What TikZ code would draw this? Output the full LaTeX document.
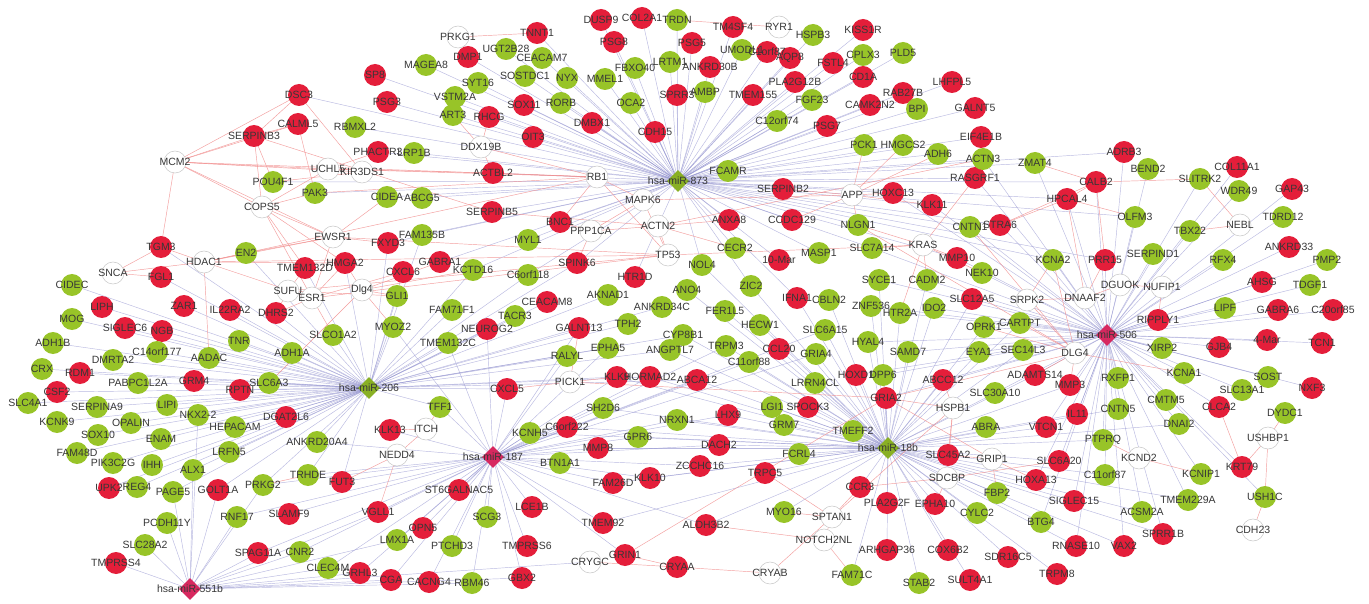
\documentclass[tikz,border=0pt]{standalone}
\usepackage{fontspec}
\setmainfont{Liberation Sans}
\usetikzlibrary{shapes.geometric}
\pgfdeclarelayer{bg}
\pgfsetlayers{bg,main}
\definecolor{nred}{RGB}{228,30,58}
\definecolor{ngreen}{RGB}{152,196,40}
\definecolor{hred}{RGB}{215,40,95}
\definecolor{eblue}{RGB}{140,140,205}
\definecolor{ered}{RGB}{242,140,140}
\definecolor{txt}{RGB}{55,55,55}
\tikzset{
 gene/.style={circle, minimum size=22pt, inner sep=0pt},
 r/.style={gene, fill=nred},
 g/.style={gene, fill=ngreen},
 w/.style={gene, fill=white, draw=black!22, line width=0.5pt},
 hr/.style={diamond, fill=hred, minimum size=22pt, inner sep=0pt},
 hg/.style={diamond, fill=ngreen!90!black, minimum size=22pt, inner sep=0pt},
 lbl/.style={text=txt, font=\fontsize{10.5}{12}\selectfont, inner sep=0pt},
 be/.style={draw=eblue, line width=0.45pt, opacity=0.6},
 re/.style={draw=ered, line width=0.45pt, opacity=0.85},
}
\def\nodelist{hg/m873/678/181/hsa-miR-873,hg/m206/369/388/hsa-miR-206,hr/m187/493/457/hsa-miR-187,hg/m18b/888/448/hsa-miR-18b,hr/m506/1107/335/hsa-miR-506,hr/m551b/190/589/hsa-miR-551b,
r/DSC3/299/95/DSC3,r/CALML5/298/124/CALML5,r/SERPINB3/254/136/SERPINB3,r/TNNT1/537/33/TNNT1,r/DUSP9/601/20/DUSP9,r/COL2A1/642/18/COL2A1,r/PSG8/614/42/PSG8,r/DMP1/468/57/DMP1,r/SP8/375/75/SP8,r/PSG3/387/102/PSG3,r/SOX11/524/105/SOX11,r/SPRR3/677/95/SPRR3,r/RHCG/489/117/RHCG,r/DMBX1/592/123/DMBX1,r/CDH15/655/132/CDH15,r/OIT3/533/137/OIT3,r/PHACTR3/378/152/PHACTR3,r/ACTBL2/493/173/ACTBL2,r/TM4SF4/733/27/TM4SF4,r/KISS1R/863/30/KISS1R,r/PSG5/692/43/PSG5,r/C1orf87/767/52/C1orf87,r/AQP8/790/58/AQP8,r/FSTL4/833/63/FSTL4,r/ANKRD30B/710/67/ANKRD30B,r/PLA2G12B/795/82/PLA2G12B,r/CD1A/863/77/CD1A,r/LHFPL5/952/82/LHFPL5,r/TMEM155/753/95/TMEM155,r/RAB27B/903/93/RAB27B,r/CAMK2N2/870/105/CAMK2N2,r/GALNT5/975/108/GALNT5,r/PSG7/827/126/PSG7,r/EIF4E1B/981/137/EIF4E1B,r/RASGRF1/975/178/RASGRF1,r/SERPINB2/783/189/SERPINB2,r/HOXC13/893/193/HOXC13,r/KLK11/932/205/KLK11,r/ADRB3/1124/152/ADRB3,r/CALB2/1096/182/CALB2,r/HPCAL4/1067/199/HPCAL4,r/COL11A1/1237/167/COL11A1,r/GAP43/1292/189/GAP43,r/TGM3/161/247/TGM3,r/TMEM132D/305/268/TMEM132D,r/HMGA2/345/263/HMGA2,r/FGL1/161/277/FGL1,r/ZAR1/184/306/ZAR1,r/IL22RA2/230/310/IL22RA2,r/DHRS2/276/313/DHRS2,r/LIPH/102/307/LIPH,r/SIGLEC6/125/328/SIGLEC6,r/NGB/162/331/NGB,r/RDM1/80/373/RDM1,r/GRM4/194/381/GRM4,r/RPTN/240/390/RPTN,r/CSF2/57/392/CSF2,r/SERPINB5/492/212/SERPINB5,r/BNC1/560/222/BNC1,r/FXYD3/388/243/FXYD3,r/GABRA1/440/262/GABRA1,r/CXCL6/403/272/CXCL6,r/SPINK6/577/263/SPINK6,r/HTR1D/635/277/HTR1D,r/CEACAM8/547/302/CEACAM8,r/NEUROG2/487/329/NEUROG2,r/GALNT13/579/328/GALNT13,r/KLK9/617/377/KLK9,r/HORMAD2/650/377/HORMAD2,r/CXCL5/507/389/CXCL5,r/ANXA8/729/220/ANXA8,r/CCDC129/792/220/CCDC129,r/STRA6/1000/225/STRA6,r/Mar10/779/260/10-Mar,r/MMP10/957/258/MMP10,r/SLC12A5/972/299/SLC12A5,r/IFNA1/797/298/IFNA1,r/CCL20/779/349/CCL20,r/ABCA12/697/380/ABCA12,r/HOXD1/856/375/HOXD1,r/ABCC12/943/380/ABCC12,r/GRIA2/886/398/GRIA2,r/ADAMTS14/1035/375/ADAMTS14,r/SPOCK3/808/407/SPOCK3,r/PRR15/1105/260/PRR15,r/ANKRD33/1289/247/ANKRD33,r/AHSG/1262/282/AHSG,r/GABRA6/1278/310/GABRA6,r/C20orf85/1333/310/C20orf85,r/RIPPLY1/1158/320/RIPPLY1,r/GJB4/1219/347/GJB4,r/Mar4/1267/340/4-Mar,r/TCN1/1322/343/TCN1,r/MMP3/1070/385/MMP3,r/NXF3/1312/388/NXF3,r/CLCA2/1219/407/CLCA2,r/DGAT2L6/286/417/DGAT2L6,r/FUT3/342/482/FUT3,r/UPK2/109/488/UPK2,r/GOLT1A/218/490/GOLT1A,r/SLAMF9/289/514/SLAMF9,r/SPAG11A/258/553/SPAG11A,r/TMPRSS4/116/563/TMPRSS4,r/KLK13/390/430/KLK13,r/C6orf222/567/427/C6orf222,r/MMP8/598/448/MMP8,r/FAM26D/613/483/FAM26D,r/KLK10/650/478/KLK10,r/ST6GALNAC5/459/490/ST6GALNAC5,r/VGLL1/378/512/VGLL1,r/LCE1B/532/507/LCE1B,r/OPN5/423/528/OPN5,r/TMEM92/603/523/TMEM92,r/TMPRSS6/527/546/TMPRSS6,r/GRIN1/625/555/GRIN1,r/CRYAA/677/567/CRYAA,r/GRHL3/360/573/GRHL3,r/CGA/391/580/CGA,r/CACNG4/429/582/CACNG4,r/GBX2/522/578/GBX2,r/LHX9/728/415/LHX9,r/DACH2/719/445/DACH2,r/SLC45A2/948/455/SLC45A2,r/ZCCHC16/700/466/ZCCHC16,r/TRPC5/765/473/TRPC5,r/CCR3/860/487/CCR3,r/PLA2G2F/887/503/PLA2G2F,r/EPHA10/935/504/EPHA10,r/ALDH3B2/706/525/ALDH3B2,r/ARHGAP36/887/550/ARHGAP36,r/COX6B2/948/550/COX6B2,r/SDR16C5/1008/557/SDR16C5,r/SULT4A1/970/580/SULT4A1,r/IL11/1077/414/IL11,r/VTCN1/1046/427/VTCN1,r/KRT79/1242/467/KRT79,r/SLC6A20/1059/461/SLC6A20,r/HOXA13/1036/480/HOXA13,r/SIGLEC15/1074/501/SIGLEC15,r/SPRR1B/1163/534/SPRR1B,r/RNASE10/1076/546/RNASE10,r/VAX2/1124/546/VAX2,r/TRPM8/1057/574/TRPM8,
g/POU4F1/273/182/POU4F1,g/PAK3/315/193/PAK3,g/TRDN/677/20/TRDN,g/UGT2B28/506/49/UGT2B28,g/CEACAM7/542/58/CEACAM7,g/MAGEA8/426/65/MAGEA8,g/SYT16/478/83/SYT16,g/SOSTDC1/525/76/SOSTDC1,g/NYX/567/78/NYX,g/MMEL1/605/79/MMEL1,g/FBXO40/635/68/FBXO40,g/LRTM1/670/62/LRTM1,g/VSTM2A/455/97/VSTM2A,g/RORB/561/103/RORB,g/OCA2/631/103/OCA2,g/ART3/453/115/ART3,g/RBMXL2/355/127/RBMXL2,g/LRP1B/414/153/LRP1B,g/CIDEA/387/197/CIDEA,g/ABCG5/422/198/ABCG5,g/HSPB3/813/35/HSPB3,g/UMODL1/742/50/UMODL1,g/CPLX3/863/55/CPLX3,g/PLD5/903/53/PLD5,g/AMBP/705/92/AMBP,g/FGF23/812/100/FGF23,g/BPI/917/109/BPI,g/C12orf74/777/121/C12orf74,g/PCK1/864/145/PCK1,g/HMGCS2/903/145/HMGCS2,g/ADH6/938/154/ADH6,g/ACTN3/983/159/ACTN3,g/FCAMR/728/171/FCAMR,g/ZMAT4/1035/163/ZMAT4,g/BEND2/1148/169/BEND2,g/SLITRK2/1200/179/SLITRK2,g/WDR49/1239/191/WDR49,g/EN2/246/253/EN2,g/CIDEC/72/285/CIDEC,g/MOG/72/319/MOG,g/TNR/239/341/TNR,g/SLCO1A2/333/335/SLCO1A2,g/ADH1B/53/343/ADH1B,g/C14orf177/157/352/C14orf177,g/AADAC/209/358/AADAC,g/ADH1A/292/353/ADH1A,g/DMRTA2/113/360/DMRTA2,g/CRX/42/369/CRX,g/PABPC1L2A/138/383/PABPC1L2A,g/SLC6A3/269/383/SLC6A3,g/FAM135B/422/235/FAM135B,g/MYL1/528/240/MYL1,g/KCTD16/473/270/KCTD16,g/C6orf118/528/275/C6orf118,g/GLI1/397/296/GLI1,g/AKNAD1/608/295/AKNAD1,g/FAM71F1/452/310/FAM71F1,g/ANKRD34C/662/307/ANKRD34C,g/TACR3/515/316/TACR3,g/MYOZ2/393/327/MYOZ2,g/TPH2/628/324/TPH2,g/TMEM132C/448/343/TMEM132C,g/EPHA5/608/348/EPHA5,g/RALYL/567/356/RALYL,g/ANGPTL7/670/350/ANGPTL7,g/NOL4/702/265/NOL4,g/ANO4/687/290/ANO4,g/CYP8B1/683/335/CYP8B1,g/NLGN1/858/225/NLGN1,g/CNTN1/970/227/CNTN1,g/CECR2/735/248/CECR2,g/MASP1/819/253/MASP1,g/SLC7A14/872/248/SLC7A14,g/NEK10/982/273/NEK10,g/ZIC2/751/286/ZIC2,g/SYCE1/879/280/SYCE1,g/CADM2/927/280/CADM2,g/CBLN2/829/300/CBLN2,g/ZNF536/871/306/ZNF536,g/HTR2A/900/313/HTR2A,g/IDO2/934/308/IDO2,g/FER1L5/725/311/FER1L5,g/HECW1/760/325/HECW1,g/OPRK1/984/327/OPRK1,g/CARTPT/1020/323/CARTPT,g/SLC6A15/825/330/SLC6A15,g/TRPM3/726/346/TRPM3,g/HYAL4/868/342/HYAL4,g/GRIA4/816/354/GRIA4,g/SAMD7/908/352/SAMD7,g/EYA1/979/352/EYA1,g/SEC14L3/1023/350/SEC14L3,g/C11orf88/749/362/C11orf88,g/LRRN4CL/815/383/LRRN4CL,g/DPP6/883/375/DPP6,g/SLC30A10/995/393/SLC30A10,g/LGI1/772/407/LGI1,g/OLFM3/1135/217/OLFM3,g/TDRD12/1283/217/TDRD12,g/TBX22/1190/231/TBX22,g/KCNA2/1053/260/KCNA2,g/SERPIND1/1153/254/SERPIND1,g/RFX4/1223/260/RFX4,g/PMP2/1327/260/PMP2,g/TDGF1/1310/285/TDGF1,g/LIPF/1225/308/LIPF,g/XIRP2/1162/348/XIRP2,g/RXFP1/1118/378/RXFP1,g/KCNA1/1184/373/KCNA1,g/SOST/1268/377/SOST,g/SLC13A1/1242/390/SLC13A1,g/CMTM5/1166/400/CMTM5,g/DYDC1/1285/413/DYDC1,g/SLC4A1/28/403/SLC4A1,g/SERPINA9/97/407/SERPINA9,g/LIPI/167/405/LIPI,g/NKX22/198/415/NKX2-2,g/KCNK9/57/422/KCNK9,g/OPALIN/131/423/OPALIN,g/HEPACAM/235/427/HEPACAM,g/SOX10/98/435/SOX10,g/ENAM/161/439/ENAM,g/ANKRD20A4/317/442/ANKRD20A4,g/FAM48D/77/453/FAM48D,g/LRFN5/229/452/LRFN5,g/PIK3C2G/113/463/PIK3C2G,g/IHH/152/465/IHH,g/ALX1/193/470/ALX1,g/TRHDE/308/475/TRHDE,g/REG4/137/487/REG4,g/PAGE5/173/492/PAGE5,g/PRKG2/263/485/PRKG2,g/RNF17/237/517/RNF17,g/PCDH11Y/167/523/PCDH11Y,g/SLC28A2/145/545/SLC28A2,g/CNR2/300/552/CNR2,g/CLEC4M/328/568/CLEC4M,g/TFF1/440/407/TFF1,g/SH2D6/603/408/SH2D6,g/NRXN1/677/420/NRXN1,g/KCNH5/530/433/KCNH5,g/GPR6/638/437/GPR6,g/BTN1A1/560/463/BTN1A1,g/SCG3/487/517/SCG3,g/LMX1A/397/540/LMX1A,g/PTCHD3/452/546/PTCHD3,g/RBM46/472/583/RBM46,g/GRM7/784/425/GRM7,g/TMEFF2/853/431/TMEFF2,g/ABRA/986/427/ABRA,g/FCRL4/799/454/FCRL4,g/FBP2/997/493/FBP2,g/CYLC2/977/513/CYLC2,g/MYO16/784/512/MYO16,g/FAM71C/852/575/FAM71C,g/STAB2/919/583/STAB2,g/CNTN5/1118/409/CNTN5,g/DNAI2/1179/424/DNAI2,g/PTPRQ/1103/440/PTPRQ,g/C11orf87/1105/475/C11orf87,g/KCNIP1/1201/474/KCNIP1,g/USH1C/1265/497/USH1C,g/TMEM229A/1188/500/TMEM229A,g/ACSM2A/1142/512/ACSM2A,g/BTG4/1041/522/BTG4,
w/MCM2/175/162/MCM2,w/UCHL5/328/169/UCHL5,w/COPS5/262/207/COPS5,w/PRKG1/458/37/PRKG1,w/DDX19B/481/147/DDX19B,w/KIR3DS1/362/172/KIR3DS1,w/RB1/597/177/RB1,w/MAPK6/643/200/MAPK6,w/RYR1/779/27/RYR1,w/APP/852/195/APP,w/HDAC1/204/262/HDAC1,w/EWSR1/333/237/EWSR1,w/SNCA/113/273/SNCA,w/SUFU/288/291/SUFU,w/ESR1/312/298/ESR1,w/PPP1CA/591/231/PPP1CA,w/ACTN2/658/226/ACTN2,w/TP53/668/255/TP53,w/Dlg4/362/290/Dlg4,w/PICK1/570/382/PICK1,w/KRAS/923/245/KRAS,w/NEBL/1240/225/NEBL,w/DGUOK/1120/285/DGUOK,w/NUFIP1/1162/287/NUFIP1,w/SRPK2/1027/300/SRPK2,w/DNAAF2/1085/298/DNAAF2,w/DLG4/1075/353/DLG4,w/HSPB1/953/408/HSPB1,w/ITCH/426/429/ITCH,w/NEDD4/397/455/NEDD4,w/CRYGC/590/562/CRYGC,w/GRIP1/992/459/GRIP1,w/SDCBP/947/478/SDCBP,w/SPTAN1/832/517/SPTAN1,w/NOTCH2NL/824/540/NOTCH2NL,w/CRYAB/770/573/CRYAB,w/USHBP1/1268/438/USHBP1,w/KCND2/1139/458/KCND2,w/CDH23/1253/530/CDH23}
\begin{document}
\begin{tikzpicture}[x=1pt,y=-1pt]
\useasboundingbox (0,0) rectangle (1369,604);
\foreach \ty/\id/\x/\y/\l in \nodelist {\node[\ty] (\id) at (\x,\y) {};}
\begin{pgfonlayer}{bg}
\fill[white] (0,0) rectangle (1369,604);
\foreach \t in {TNNT1,DUSP9,COL2A1,TRDN,PSG8,UGT2B28,DMP1,CEACAM7,MAGEA8,SP8,SYT16,SOSTDC1,NYX,MMEL1,FBXO40,LRTM1,VSTM2A,PSG3,SOX11,RORB,OCA2,SPRR3,ART3,RHCG,DMBX1,CDH15,OIT3,PHACTR3,LRP1B,ACTBL2,DSC3,TM4SF4,HSPB3,KISS1R,PSG5,UMODL1,C1orf87,AQP8,FSTL4,CPLX3,PLD5,ANKRD30B,PLA2G12B,CD1A,LHFPL5,AMBP,TMEM155,FGF23,RAB27B,CAMK2N2,BPI,GALNT5,C12orf74,PSG7,EIF4E1B,PCK1,HMGCS2,ADH6,ACTN3,FCAMR,RASGRF1,SERPINB2,HOXC13,ZMAT4,ANXA8,CCDC129,NLGN1,CNTN1,STRA6,SERPINB5,BNC1,MYL1,SPINK6,FAM135B,CIDEA,ABCG5,PAK3,POU4F1,FXYD3,GABRA1,KCTD16,C6orf118,HTR1D,NOL4,CECR2,KLK11,MASP1,SLC7A14,MMP10,Mar10,ADRB3,HPCAL4,KCNA2,PRR15,OLFM3,ZIC2,IFNA1,RBMXL2,CALB2}
  \draw[be] (m873.center) -- (\t.center);
\foreach \t in {CIDEC,MOG,LIPH,SIGLEC6,NGB,ADH1B,C14orf177,DMRTA2,CRX,RDM1,PABPC1L2A,GRM4,CSF2,SLC6A3,RPTN,TNR,AADAC,ADH1A,SLCO1A2,IL22RA2,ZAR1,FGL1,DHRS2,SLC4A1,KCNK9,SERPINA9,SOX10,OPALIN,LIPI,NKX22,ENAM,FAM48D,PIK3C2G,IHH,ALX1,HEPACAM,LRFN5,DGAT2L6,ANKRD20A4,TRHDE,PRKG2,UPK2,REG4,PAGE5,GOLT1A,MYOZ2,GLI1,CXCL6,FXYD3,FAM135B,FAM71F1,TMEM132C,TGM3,EN2,TMEM132D,HMGA2,KCTD16,NEUROG2,TACR3,CEACAM8,CXCL5,RALYL,GALNT13,EPHA5,TPH2,AKNAD1,C6orf118,SPINK6,ANKRD34C,KLK9,HORMAD2,ANGPTL7,ABCA12,CYP8B1,TFF1,FUT3}
  \draw[be] (m206.center) -- (\t.center);
\foreach \t in {ST6GALNAC5,VGLL1,OPN5,LMX1A,PTCHD3,SCG3,LCE1B,TMPRSS6,GBX2,RBM46,CACNG4,CGA,GRHL3,CLEC4M,KCNH5,C6orf222,BTN1A1,MMP8,KLK13,TFF1,GPR6,FAM26D,KLK10,TMEM92,SH2D6,CXCL5,FUT3,SLAMF9,SPAG11A,CNR2,RNF17,PRKG2,TRHDE,ANKRD20A4,NRXN1,ZCCHC16,DACH2,GRIN1,ALDH3B2,KLK9,HORMAD2,RALYL,NEUROG2,TMEM132C,MYOZ2,GALNT13,EPHA5,TRPM3,C11orf88,LHX9,ABCA12,SLC6A15,GRIA4}
  \draw[be] (m187.center) -- (\t.center);
\foreach \t in {TMEFF2,GRM7,LGI1,SPOCK3,FCRL4,TRPC5,DACH2,LHX9,ZCCHC16,CCR3,PLA2G2F,ARHGAP36,FAM71C,STAB2,SULT4A1,COX6B2,EPHA10,CYLC2,SDR16C5,TRPM8,RNASE10,BTG4,SIGLEC15,HOXA13,SLC6A20,VTCN1,IL11,ABRA,SLC45A2,FBP2,MYO16,ALDH3B2,HOXD1,DPP6,GRIA2,LRRN4CL,SAMD7,HYAL4,GRIA4,SLC6A15,CCL20,C11orf88,TRPM3,HECW1,ABCC12,SLC30A10,EYA1,NRXN1,GPR6,MMP8,KLK10,FAM26D,TMEM92,SH2D6,KCNH5,C6orf222,MMP3,ADAMTS14,CNTN5,PTPRQ,C11orf87,VAX2,ACSM2A,SPRR1B,TMEM229A,DNAI2,HTR2A,ZNF536,IDO2,CBLN2,IFNA1,SYCE1,CADM2,SLC12A5,OPRK1,KLK9,HORMAD2,ABCA12,ANGPTL7,CYP8B1,FER1L5,ZIC2,ANO4,NOL4,SEC14L3,CARTPT}
  \draw[be] (m18b.center) -- (\t.center);
\foreach \t in {OLFM3,TBX22,KCNA2,PRR15,SERPIND1,RFX4,ANKRD33,PMP2,AHSG,TDGF1,LIPF,GABRA6,C20orf85,RIPPLY1,XIRP2,GJB4,Mar4,TCN1,RXFP1,KCNA1,SOST,NXF3,SLC13A1,CMTM5,CLCA2,MMP3,ADAMTS14,SEC14L3,CARTPT,OPRK1,EYA1,SLC30A10,ABCC12,IL11,VTCN1,CNTN5,DNAI2,PTPRQ,KCNIP1,TMEM229A,USH1C,C11orf87,SLC6A20,HOXA13,SIGLEC15,ACSM2A,SPRR1B,VAX2,BTG4,RNASE10,TDRD12,SLITRK2,COL11A1,WDR49,GAP43,BEND2,ADRB3,CALB2,HPCAL4,STRA6,CNTN1,NEK10,MMP10,SLC12A5,IDO2,CADM2,SAMD7,HYAL4,SLC7A14,KLK11,HOXC13,ZMAT4,RASGRF1,ACTN3,ZNF536,HTR2A,SYCE1,GRIA2,DPP6,HOXD1,KRT79}
  \draw[be] (m506.center) -- (\t.center);
\foreach \t in {TMPRSS4,SLC28A2,PCDH11Y,ALX1,NKX22,RNF17,SPAG11A,CNR2,CLEC4M,GOLT1A,PRKG2,PAGE5,GRHL3,CGA,VGLL1,LMX1A,GBX2,RBM46,CRYGC}
  \draw[be] (m551b.center) -- (\t.center);
\foreach \a/\b in {MCM2/SERPINB3,MCM2/DSC3,MCM2/CALML5,MCM2/UCHL5,MCM2/RB1,MCM2/TGM3,MCM2/COPS5,MCM2/KIR3DS1,MCM2/EWSR1,
 SERPINB3/DSC3,SERPINB3/CALML5,SERPINB3/POU4F1,SERPINB3/COPS5,SERPINB3/SERPINB5,CALML5/PAK3,DSC3/KIR3DS1,
 PRKG1/TNNT1,PRKG1/DMP1,TRDN/RYR1,UCHL5/COPS5,UCHL5/RB1,UCHL5/ACTBL2,UCHL5/PHACTR3,
 COPS5/EWSR1,COPS5/TMEM132D,COPS5/HMGA2,COPS5/ESR1,COPS5/PAK3,KIR3DS1/POU4F1,
 DDX19B/ART3,DDX19B/RB1,DDX19B/ACTBL2,DDX19B/RHCG,RB1/ACTBL2,RB1/MAPK6,RB1/HDAC1,RB1/TP53,RB1/BNC1,RB1/PAK3,
 MAPK6/PPP1CA,MAPK6/APP,MAPK6/TP53,APP/PCK1,APP/HMGCS2,APP/HOXC13,APP/KLK11,APP/SERPINB2,APP/CCDC129,APP/NLGN1,APP/ADH6,
 TP53/ACTN2,TP53/HDAC1,TP53/ESR1,TP53/KRAS,TP53/EWSR1,TP53/SUFU,ACTN2/PPP1CA,ACTN2/ACTN3,ACTN2/ANXA8,ACTN2/CECR2,ACTN2/SERPINB5,
 PPP1CA/BNC1,PPP1CA/SPINK6,HDAC1/EN2,HDAC1/ESR1,HDAC1/SNCA,HDAC1/TGM3,HDAC1/AADAC,HDAC1/HMGA2,HDAC1/EWSR1,
 EWSR1/EN2,EWSR1/FXYD3,EWSR1/CIDEA,EWSR1/ESR1,SNCA/TGM3,SNCA/FGL1,SUFU/GLI1,SUFU/ESR1,SUFU/DHRS2,SUFU/TMEM132D,
 ESR1/DHRS2,ESR1/HMGA2,ESR1/CXCL6,ESR1/SLCO1A2,Dlg4/GABRA1,Dlg4/GLI1,Dlg4/MYOZ2,Dlg4/HMGA2,Dlg4/SLC6A3,Dlg4/KCTD16,
 KRAS/MMP10,KRAS/NEK10,KRAS/SLC7A14,KRAS/CADM2,KRAS/HTR2A,KRAS/RASGRF1,KRAS/NLGN1,
 DLG4/ADAMTS14,DLG4/SRPK2,DLG4/KCNA2,DLG4/KCNA1,DLG4/MMP3,DLG4/NLGN1,DLG4/CARTPT,DLG4/OPRK1,DLG4/GRIA2,DLG4/CNTN1,
 SRPK2/DNAAF2,SRPK2/KCNA2,DNAAF2/DGUOK,DNAAF2/PRR15,DNAAF2/HPCAL4,DGUOK/NUFIP1,NUFIP1/RIPPLY1,NEBL/TBX22,NEBL/SLITRK2,
 CALB2/HPCAL4,CALB2/ZMAT4,CALB2/SLITRK2,CALB2/PRR15,CALB2/STRA6,HPCAL4/OLFM3,HPCAL4/STRA6,
 HSPB1/GRIA2,HSPB1/ABCC12,HSPB1/SLC45A2,HSPB1/CRYAB,HSPB1/SDCBP,GRIP1/SLC45A2,GRIP1/GRIA2,GRIP1/FBP2,GRIP1/HOXA13,
 SDCBP/EPHA10,SDCBP/CCR3,SDCBP/SLC6A20,SPTAN1/MYO16,SPTAN1/CCR3,SPTAN1/TRPC5,SPTAN1/NOTCH2NL,NOTCH2NL/ALDH3B2,NOTCH2NL/FAM71C,
 CRYAB/CRYAA,CRYAA/CRYGC,CRYAA/GRIN1,GRIN1/GRIA2,ITCH/NEDD4,ITCH/KLK13,NEDD4/VGLL1,NEDD4/FUT3,ITCH/TFF1,
 PICK1/GRIA2,PICK1/KLK9,PICK1/CXCL5,PICK1/GALNT13,KCND2/KCNIP1,KCND2/PTPRQ,
 USHBP1/DYDC1,USHBP1/KRT79,USHBP1/USH1C,USH1C/CDH23,KRT79/CLCA2,PRKG2/TRHDE}
  \draw[re] (\a.center) -- (\b.center);
\end{pgfonlayer}
\foreach \ty/\id/\x/\y/\l in \nodelist {\node[lbl] at (\x,\y) {\l};}
\end{tikzpicture}
\end{document}
